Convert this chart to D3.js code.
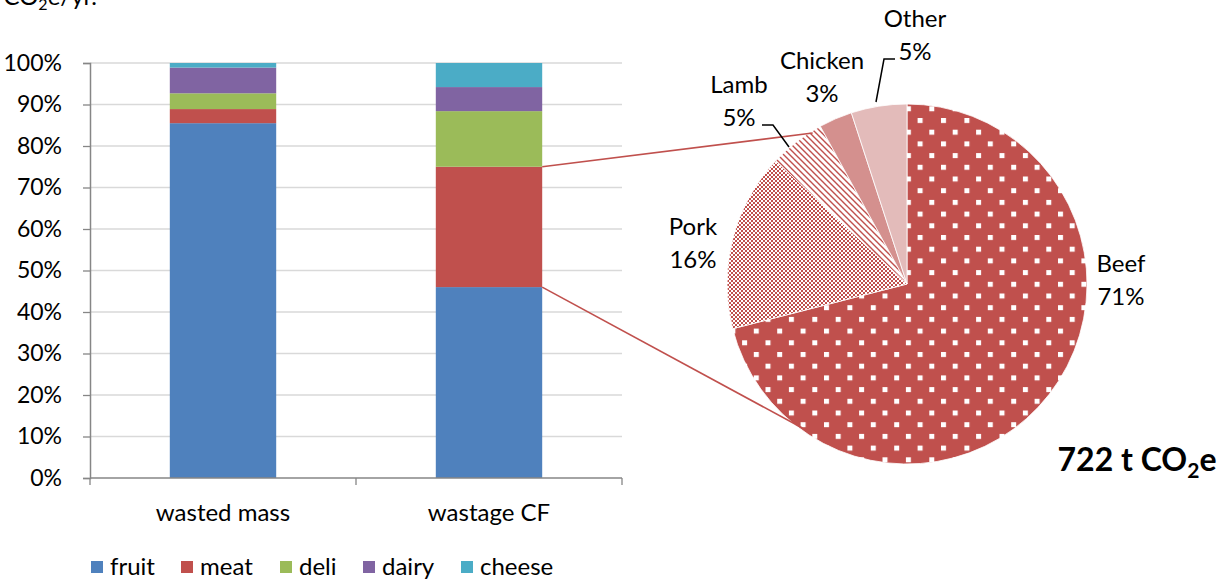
<!DOCTYPE html>
<html>
<head>
<meta charset="utf-8">
<script src="https://cdn.jsdelivr.net/npm/d3@7"></script>
<style>
  html, body { margin: 0; padding: 0; background: #fff; }
  svg { display: block; }
  text { font-family: Lato, "Open Sans", sans-serif; fill: #000; }
</style>
</head>
<body>
<svg id="chart" width="1228" height="580"></svg>
<script>
// Share of wasted food by category: mass vs. carbon footprint (%)
const categories = ["wasted mass", "wastage CF"];
const seriesNames = ["fruit", "meat", "deli", "dairy", "cheese"];
const fruit  = [85.5, 46.0];
const meat   = [3.4, 29.0];
const deli   = [3.8, 13.4];
const dairy  = [6.2, 5.8];
const cheese = [1.1, 5.8];
const yTicks = [0, 10, 20, 30, 40, 50, 60, 70, 80, 90, 100];

// Breakdown of the meat footprint (%), total 722 t CO2e
const meatTypes  = ["Beef", "Pork", "Lamb", "Chicken", "Other"];
const meatShares = [71, 16, 5, 3, 5];

const seriesColors = ["#4F81BD", "#C0504D", "#9BBB59", "#8064A2", "#4BACC6"];
const red = "#C0504D";

const svg = d3.select("#chart");
const FS = 24;

// ---------- patterns for the pie ----------
const defs = svg.append("defs");
const pBeef = defs.append("pattern").attr("id", "pBeef")
  .attr("patternUnits", "userSpaceOnUse").attr("width", 23.4).attr("height", 23.4)
  .attr("x", 911.5).attr("y", 126.5);
pBeef.append("rect").attr("width", 23.4).attr("height", 23.4).attr("fill", red);
pBeef.append("rect").attr("x", 0).attr("y", 0).attr("width", 5).attr("height", 5).attr("fill", "#fff");
pBeef.append("rect").attr("x", 11.7).attr("y", 11.7).attr("width", 5).attr("height", 5).attr("fill", "#fff");

const pPork = defs.append("pattern").attr("id", "pPork")
  .attr("patternUnits", "userSpaceOnUse").attr("width", 4).attr("height", 4);
pPork.append("rect").attr("width", 4).attr("height", 4).attr("fill", "#fff");
pPork.append("rect").attr("x", 0).attr("y", 0).attr("width", 2).attr("height", 2).attr("fill", red);
pPork.append("rect").attr("x", 2).attr("y", 2).attr("width", 2).attr("height", 2).attr("fill", red);

const pLamb = defs.append("pattern").attr("id", "pLamb")
  .attr("patternUnits", "userSpaceOnUse").attr("width", 6).attr("height", 6);
pLamb.append("rect").attr("width", 6).attr("height", 6).attr("fill", "#fff");
pLamb.append("path").attr("d", "M-1,-1 L7,7 M-1,5 L1,7 M5,-1 L7,1")
  .attr("stroke", red).attr("stroke-width", 1.4);

const pieFills = ["url(#pBeef)", "url(#pPork)", "url(#pLamb)", "#D4908E", "#E3BBBA"];

// ---------- caption fragment at the top edge ----------
const cap = svg.append("text").attr("x", 97).attr("y", 5).attr("text-anchor", "end")
  .attr("font-size", 24);
cap.append("tspan").text("CO");
cap.append("tspan").attr("font-size", 16).attr("dy", 5).text("2");
cap.append("tspan").attr("dy", -5).text("e/yr.");

// ---------- stacked bar chart ----------
const plot = { left: 90, right: 622, top: 63, bottom: 478 };
const x = d3.scaleBand().domain(categories).range([plot.left, plot.right]).paddingInner(0.6).paddingOuter(0.3);
const y = d3.scaleLinear().domain([0, 100]).range([plot.bottom, plot.top]);

// gridlines
svg.append("g").selectAll("line").data(yTicks.filter(d => d > 0)).join("line")
  .attr("x1", plot.left).attr("x2", plot.right)
  .attr("y1", d => y(d)).attr("y2", d => y(d))
  .attr("stroke", "#D9D9D9").attr("stroke-width", 1.3);

const rows = categories.map((c, i) => ({
  category: c, fruit: fruit[i], meat: meat[i], deli: deli[i], dairy: dairy[i], cheese: cheese[i]
}));
const stacked = d3.stack().keys(seriesNames)(rows);

svg.append("g").selectAll("g").data(stacked).join("g")
  .attr("fill", (d, i) => seriesColors[i])
  .selectAll("rect").data(d => d).join("rect")
  .attr("x", d => x(d.data.category))
  .attr("width", x.bandwidth())
  .attr("y", d => y(d[1]))
  .attr("height", d => y(d[0]) - y(d[1]));

// y axis
const yAxis = svg.append("g").attr("transform", `translate(${plot.left},0)`)
  .call(d3.axisLeft(y).tickValues(yTicks).tickFormat(d => d + "%").tickSize(7).tickPadding(21));
yAxis.select(".domain").attr("stroke", "#868686").attr("stroke-width", 1.5);
yAxis.selectAll(".tick line").attr("stroke", "#868686").attr("stroke-width", 1.3);
yAxis.selectAll(".tick text").attr("font-size", 23).attr("font-family", "Lato").attr("fill", "#000");

// x axis (ticks between categories)
const xAxisG = svg.append("g").attr("transform", `translate(0,${plot.bottom})`);
xAxisG.append("line").attr("x1", plot.left).attr("x2", plot.right)
  .attr("stroke", "#868686").attr("stroke-width", 1.5);
const step = (plot.right - plot.left) / categories.length;
xAxisG.selectAll(".xt").data(d3.range(categories.length + 1)).join("line")
  .attr("x1", i => plot.left + i * step).attr("x2", i => plot.left + i * step)
  .attr("y1", 0).attr("y2", 7).attr("stroke", "#868686").attr("stroke-width", 1.3);
xAxisG.selectAll("text").data(categories).join("text")
  .attr("x", d => x(d) + x.bandwidth() / 2).attr("y", 43)
  .attr("text-anchor", "middle").attr("font-size", FS).text(d => d);

// legend
const legendX = [91, 181, 280, 363, 461];
const lg = svg.append("g").selectAll("g").data(seriesNames).join("g")
  .attr("transform", (d, i) => `translate(${legendX[i]},561)`);
lg.append("rect").attr("width", 12).attr("height", 12).attr("fill", (d, i) => seriesColors[i]);
lg.append("text").attr("x", 19).attr("y", 14).attr("font-size", FS).text(d => d);

// ---------- pie of the meat footprint ----------
const cx = 907, cy = 284, R = 180;
const pie = d3.pie().sort(null).value(d => d)(meatShares);
const arc = d3.arc().innerRadius(0).outerRadius(R);
const pieG = svg.append("g").attr("transform", `translate(${cx},${cy})`);
pieG.selectAll("path").data(pie).join("path")
  .attr("d", arc).attr("fill", (d, i) => pieFills[i])
  .attr("stroke", "#fff").attr("stroke-width", 0.8);

// connector lines from the meat segment to the pie
const meatTop = y(fruit[1] + meat[1]), meatBot = y(fruit[1]);
const barRight = x(categories[1]) + x.bandwidth();
const topPt = d3.pointRadial(328 * Math.PI / 180, R - 2);
const botPt = d3.pointRadial(216 * Math.PI / 180, R - 2);
svg.append("line").attr("x1", barRight).attr("y1", meatTop)
  .attr("x2", cx + topPt[0]).attr("y2", cy + topPt[1])
  .attr("stroke", red).attr("stroke-width", 1.6);
svg.append("line").attr("x1", barRight).attr("y1", meatBot)
  .attr("x2", cx + botPt[0]).attr("y2", cy + botPt[1])
  .attr("stroke", red).attr("stroke-width", 1.6);

// pie labels
const labelPos = [[1121, 272], [693, 235], [739, 93], [822, 69], [915, 27]];
const lab = svg.append("g").selectAll("text").data(pie).join("text")
  .attr("text-anchor", "middle").attr("font-size", FS)
  .attr("x", (d, i) => labelPos[i][0]).attr("y", (d, i) => labelPos[i][1]);
lab.append("tspan").text((d, i) => meatTypes[i]);
lab.append("tspan").attr("x", (d, i) => labelPos[i][0]).attr("dy", 33).text(d => d.data + "%");

// leader lines for the small slices
svg.append("path").attr("d", "M762,125 L773,125 L789,147")
  .attr("fill", "none").attr("stroke", "#000").attr("stroke-width", 1.5);
svg.append("path").attr("d", "M895,59 L884,59 L876,102")
  .attr("fill", "none").attr("stroke", "#000").attr("stroke-width", 1.5);

// total
const tot = svg.append("text").attr("x", 1137).attr("y", 471).attr("text-anchor", "middle")
  .attr("font-size", 32).attr("font-weight", "bold");
tot.append("tspan").text("722 t CO");
tot.append("tspan").attr("font-size", 21).attr("dy", 7).text("2");
tot.append("tspan").attr("dy", -7).text("e");
</script>
</body>
</html>
